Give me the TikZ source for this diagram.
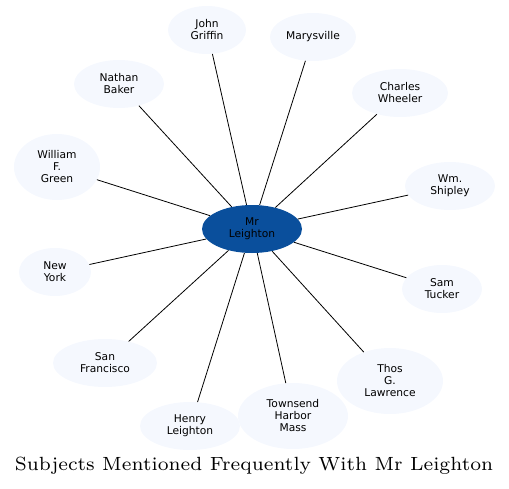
\documentclass[tikz,border=0pt]{standalone}
\usepackage{fontspec}
\usepackage{xcolor}
\usepackage{tikz}
\usetikzlibrary{
  shapes.geometric
}
\newfontfamily\labelfont{DejaVu Sans}
\newfontfamily\titlefont{lmroman7-regular}[Extension=.otf]
\definecolor{hubblue}{RGB}{10,79,156}
\definecolor{palefill}{RGB}{245,248,254}
\tikzset{
  hub/.style={ellipse,fill=hubblue,draw=none,inner sep=0pt,
    minimum width=100pt,minimum height=48pt,align=center,
    font=\labelfont\fontsize{10.7}{12}\selectfont},
  subject/.style={ellipse,fill=palefill,draw=none,inner sep=0pt,
    minimum width=#1,minimum height=48pt,align=center,
    font=\labelfont\fontsize{10.7}{12}\selectfont},
  tall/.style={minimum height=66pt},
  spoke/.style={draw=black,line width=0.8pt},
  caption/.style={font=\titlefont\fontsize{19.1}{21}\selectfont}
}

\begin{document}
\begin{tikzpicture}[x=1pt,y=-1pt]
  \useasboundingbox (0,0) rectangle (509,488);

  \node[subject=78pt] (griffin) at (207,30) {John\\Griffin};
  \node[subject=86pt] (marysville) at (313,37) {Marysville};
  \node[subject=90pt] (baker) at (119,84) {Nathan\\Baker};
  \node[subject=96pt] (wheeler) at (400,93) {Charles\\Wheeler};
  \node[subject=86pt,tall] (green) at (57,167) {William\\F.\\Green};
  \node[subject=90pt] (shipley) at (450,186) {Wm.\\Shipley};
  \node[subject=72pt] (newyork) at (55,272) {New\\York};
  \node[subject=80pt] (tucker) at (442,289) {Sam\\Tucker};
  \node[subject=104pt] (sanfran) at (105,363) {San\\Francisco};
  \node[subject=106pt,tall] (lawrence) at (390,381) {Thos\\G.\\Lawrence};
  \node[subject=100pt] (henry) at (190,426) {Henry\\Leighton};
  \node[subject=110pt,tall] (townsend) at (293,416) {Townsend\\Harbor\\Mass};

  \node[hub] (leighton) at (252,229) {Mr\\Leighton};

  \draw[spoke] (leighton) -- (griffin);
  \draw[spoke] (leighton) -- (marysville);
  \draw[spoke] (leighton) -- (baker);
  \draw[spoke] (leighton) -- (wheeler);
  \draw[spoke] (leighton) -- (green);
  \draw[spoke] (leighton) -- (shipley);
  \draw[spoke] (leighton) -- (newyork);
  \draw[spoke] (leighton) -- (tucker);
  \draw[spoke] (leighton) -- (sanfran);
  \draw[spoke] (leighton) -- (lawrence);
  \draw[spoke] (leighton) -- (henry);
  \draw[spoke] (leighton) -- (townsend);

  \node[caption] (title) at (254,466) {Subjects Mentioned Frequently With Mr Leighton};
\end{tikzpicture}
\end{document}
